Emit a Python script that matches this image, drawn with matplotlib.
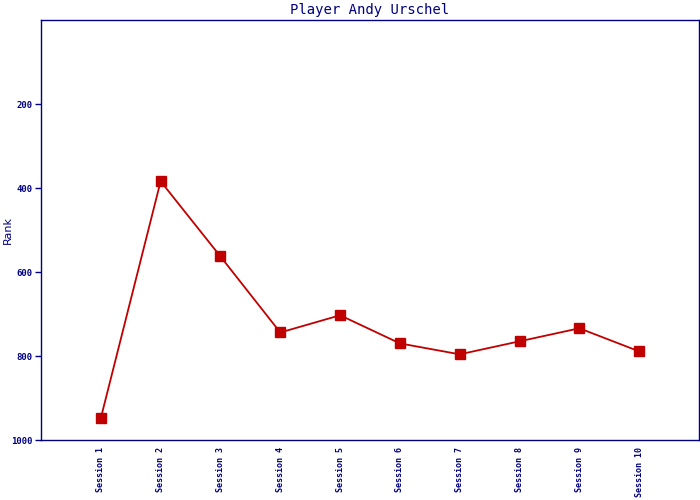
import matplotlib

matplotlib.use("Agg")
import matplotlib.pyplot as plt

sessions = [f"Session {i}" for i in range(1, 11)]
ranks = [948, 384, 563, 744, 703, 770, 796, 765, 734, 789]
y_ticks = [200, 400, 600, 800, 1000]

NAVY = "#000080"
RED = "#c00000"

fig = plt.figure(figsize=(7, 5), dpi=100)
ax = fig.add_axes([41 / 700, 60 / 500, 658 / 700, 420 / 500])

x = list(range(len(sessions)))
ax.plot(x, ranks, color=RED, linewidth=1.3, marker="s", markersize=7.5,
        markerfacecolor=RED, markeredgecolor=RED)

ax.set_xlim(-1, 10)
ax.set_ylim(1000, 0)
ax.set_yticks(y_ticks)
ax.set_yticklabels([str(v) for v in y_ticks], family="DejaVu Sans Mono",
                   fontsize=6.5, fontweight="bold", color=NAVY)
ax.set_xticks(x)
ax.set_xticklabels(sessions, rotation=90, family="DejaVu Sans Mono",
                   fontsize=6, fontweight="bold", color=NAVY, va="top")
ax.tick_params(axis="y", length=4, width=1, color=NAVY, pad=2)
ax.tick_params(axis="x", length=0, pad=5)

for side in ("left", "bottom", "right", "top"):
    ax.spines[side].set_color(NAVY)
    ax.spines[side].set_linewidth(1)

ax.set_title("Player Andy Urschel", family="DejaVu Sans Mono", fontsize=10,
             color=NAVY, pad=4)
ax.set_ylabel("Rank", fontsize=8, color=NAVY, va="center")
ax.yaxis.set_label_coords(-33 / 658, 0.5)

fig.savefig("out.png", dpi=100)
plt.close(fig)
